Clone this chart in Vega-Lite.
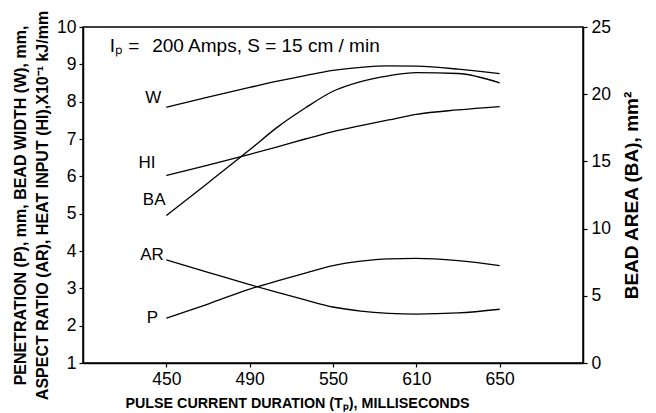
{
  "$schema": "https://vega.github.io/schema/vega-lite/v6.json",
  "width": 500,
  "height": 336,
  "autosize": "none",
  "padding": {"left": 83, "top": 27, "right": 73, "bottom": 50},
  "background": "white",
  "config": {
    "font": "Liberation Sans",
    "view": {"stroke": "black", "strokeWidth": 1.5},
    "axis": {
      "grid": false,
      "domainColor": "black",
      "domainWidth": 1.5,
      "tickColor": "black",
      "tickWidth": 1.2,
      "tickSize": 4,
      "labelFontSize": 17.5,
      "labelColor": "black",
      "labelFont": "Liberation Sans",
      "labelOverlap": false,
      "labelFlush": false,
      "titleFont": "Liberation Sans",
      "titleFontSize": 14.3,
      "titleFontWeight": "bold",
      "titleColor": "black"
    }
  },
  "datasets": {
    "curves": [
      {"series": "W", "t": 450, "v": 7.85}, {"series": "W", "t": 470, "v": 8.12}, {"series": "W", "t": 490, "v": 8.38},
      {"series": "W", "t": 510, "v": 8.55}, {"series": "W", "t": 530, "v": 8.70}, {"series": "W", "t": 550, "v": 8.84},
      {"series": "W", "t": 570, "v": 8.92}, {"series": "W", "t": 590, "v": 8.96}, {"series": "W", "t": 610, "v": 8.95},
      {"series": "W", "t": 630, "v": 8.87}, {"series": "W", "t": 650, "v": 8.75},
      {"series": "HI", "t": 450, "v": 6.02}, {"series": "HI", "t": 470, "v": 6.30}, {"series": "HI", "t": 490, "v": 6.59},
      {"series": "HI", "t": 510, "v": 6.79}, {"series": "HI", "t": 530, "v": 7.00}, {"series": "HI", "t": 550, "v": 7.20},
      {"series": "HI", "t": 570, "v": 7.36}, {"series": "HI", "t": 590, "v": 7.51}, {"series": "HI", "t": 610, "v": 7.66},
      {"series": "HI", "t": 630, "v": 7.78}, {"series": "HI", "t": 650, "v": 7.87},
      {"series": "AR", "t": 450, "v": 3.76}, {"series": "AR", "t": 470, "v": 3.43}, {"series": "AR", "t": 490, "v": 3.10},
      {"series": "AR", "t": 510, "v": 2.89}, {"series": "AR", "t": 530, "v": 2.69}, {"series": "AR", "t": 550, "v": 2.50},
      {"series": "AR", "t": 570, "v": 2.39}, {"series": "AR", "t": 590, "v": 2.33}, {"series": "AR", "t": 610, "v": 2.31},
      {"series": "AR", "t": 630, "v": 2.34}, {"series": "AR", "t": 650, "v": 2.44},
      {"series": "P", "t": 450, "v": 2.20}, {"series": "P", "t": 470, "v": 2.58}, {"series": "P", "t": 490, "v": 2.98},
      {"series": "P", "t": 510, "v": 3.20}, {"series": "P", "t": 530, "v": 3.41}, {"series": "P", "t": 550, "v": 3.61},
      {"series": "P", "t": 570, "v": 3.73}, {"series": "P", "t": 590, "v": 3.79}, {"series": "P", "t": 610, "v": 3.80},
      {"series": "P", "t": 630, "v": 3.74}, {"series": "P", "t": 650, "v": 3.61}
    ],
    "bead": [
      {"t": 450, "ba": 10.97}, {"t": 470, "ba": 13.40}, {"t": 490, "ba": 15.86}, {"t": 510, "ba": 17.55},
      {"t": 530, "ba": 18.97}, {"t": 550, "ba": 20.22}, {"t": 570, "ba": 20.94}, {"t": 590, "ba": 21.37},
      {"t": 610, "ba": 21.60}, {"t": 630, "ba": 21.54}, {"t": 650, "ba": 20.84}
    ],
    "labels": [
      {"label": "W", "t": 447, "v": 8.1},
      {"label": "HI", "t": 443.5, "v": 6.37},
      {"label": "BA", "t": 449.5, "v": 5.37},
      {"label": "AR", "t": 448.5, "v": 3.89},
      {"label": "P", "t": 445, "v": 2.2}
    ],
    "notes": [
      {"text": "Iₚ =", "t": 416, "v": 9.49},
      {"text": "200 Amps,  S = 15 cm / min", "t": 441.5, "v": 9.49}
    ]
  },
  "layer": [
    {
      "layer": [
        {
          "data": {"name": "curves"},
          "mark": {"type": "line", "color": "black", "strokeWidth": 1.3, "interpolate": "monotone"},
          "encoding": {
            "x": {
              "field": "t", "type": "quantitative",
              "scale": {"domain": [410, 450, 490, 550, 610, 650, 690], "range": [0, 83.33, 166.67, 250, 333.33, 416.67, 500]},
              "axis": {"values": [450, 490, 550, 610, 650], "format": "d", "labelOverlap": false, "title": "PULSE CURRENT DURATION  (Tₚ), MILLISECONDS", "labelPadding": 3, "titlePadding": 9, "titleX": 214, "titleAnchor": "start", "titleAlign": "center"}
            },
            "y": {
              "field": "v", "type": "quantitative",
              "scale": {"domain": [1, 10], "nice": false, "zero": false},
              "axis": {"orient": "left", "values": [1, 2, 3, 4, 5, 6, 7, 8, 9, 10], "labelOverlap": false, "labelFlush": false, "labelPadding": 3, "titlePadding": 6,
                       "titleFontSize": 16, "titleY": 178,
                       "title": ["PENETRATION (P), mm, BEAD WIDTH (W), mm,", "ASPECT RATIO (AR), HEAT INPUT (HI),X10⁻¹ kJ/mm"], "titleLineHeight": 22}
            },
            "detail": {"field": "series"}
          }
        },
        {
          "data": {"name": "labels"},
          "mark": {"type": "text", "align": "right", "baseline": "middle", "fontSize": 17, "color": "black", "font": "Liberation Sans"},
          "encoding": {
            "x": {
              "field": "t", "type": "quantitative",
              "axis": {"values": [450, 490, 550, 610, 650], "format": "d", "labelOverlap": false, "title": "PULSE CURRENT DURATION  (Tₚ), MILLISECONDS", "labelPadding": 3, "titlePadding": 9, "titleX": 214, "titleAnchor": "start", "titleAlign": "center"}
            },
            "y": {
              "field": "v", "type": "quantitative",
              "axis": {"orient": "left", "values": [1, 2, 3, 4, 5, 6, 7, 8, 9, 10], "labelOverlap": false, "labelFlush": false, "labelPadding": 3, "titlePadding": 6,
                       "titleFontSize": 16, "titleY": 178,
                       "title": ["PENETRATION (P), mm, BEAD WIDTH (W), mm,", "ASPECT RATIO (AR), HEAT INPUT (HI),X10⁻¹ kJ/mm"], "titleLineHeight": 22}
            },
            "text": {"field": "label"}
          }
        },
        {
          "data": {"name": "notes"},
          "mark": {"type": "text", "align": "left", "baseline": "middle", "fontSize": 19, "color": "black", "font": "Liberation Sans"},
          "encoding": {
            "x": {
              "field": "t", "type": "quantitative",
              "axis": {"values": [450, 490, 550, 610, 650], "format": "d", "labelOverlap": false, "title": "PULSE CURRENT DURATION  (Tₚ), MILLISECONDS", "labelPadding": 3, "titlePadding": 9, "titleX": 214, "titleAnchor": "start", "titleAlign": "center"}
            },
            "y": {
              "field": "v", "type": "quantitative",
              "axis": {"orient": "left", "values": [1, 2, 3, 4, 5, 6, 7, 8, 9, 10], "labelOverlap": false, "labelFlush": false, "labelPadding": 3, "titlePadding": 6,
                       "titleFontSize": 16, "titleY": 178,
                       "title": ["PENETRATION (P), mm, BEAD WIDTH (W), mm,", "ASPECT RATIO (AR), HEAT INPUT (HI),X10⁻¹ kJ/mm"], "titleLineHeight": 22}
            },
            "text": {"field": "text"}
          }
        }
      ]
    },
    {
      "data": {"name": "bead"},
      "mark": {"type": "line", "color": "black", "strokeWidth": 1.3, "interpolate": "monotone"},
      "encoding": {
        "x": {
          "field": "t", "type": "quantitative",
          "axis": {"values": [450, 490, 550, 610, 650], "format": "d", "labelOverlap": false, "title": "PULSE CURRENT DURATION  (Tₚ), MILLISECONDS", "labelPadding": 3, "titlePadding": 9, "titleX": 214, "titleAnchor": "start", "titleAlign": "center"}
        },
        "y": {
          "field": "ba", "type": "quantitative",
          "scale": {"domain": [0, 25], "nice": false},
          "axis": {"orient": "right", "values": [0, 5, 10, 15, 20, 25], "labelOverlap": false, "labelFlush": false, "labelPadding": 4, "titlePadding": 31,
                   "title": "BEAD AREA (BA), mm²", "titleFontSize": 19, "titleAngle": 270}
        }
      }
    }
  ],
  "resolve": {"scale": {"y": "independent"}}
}
